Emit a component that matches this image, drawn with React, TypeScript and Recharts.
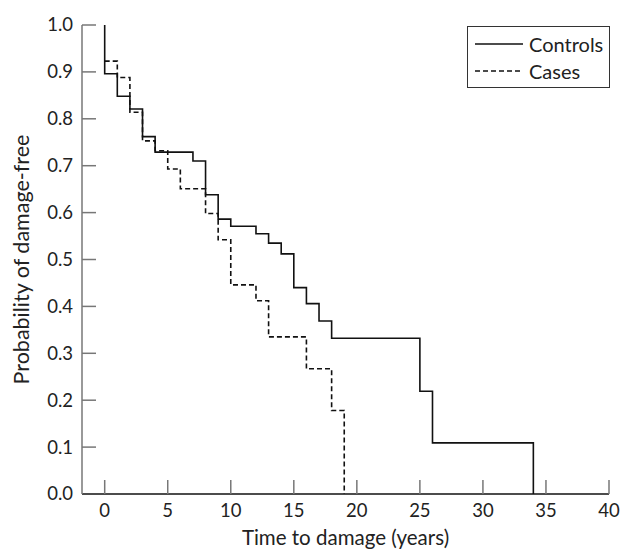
import React from "react";
import { LineChart, Line, XAxis, YAxis } from "recharts";

const controlTimes = [0, 0, 1, 2, 3, 4, 7, 8, 9, 10, 12, 13, 14, 15, 16, 17, 18, 25, 26, 34];
const controlSurvival = [1.0, 0.896, 0.848, 0.821, 0.762, 0.729, 0.71, 0.638, 0.586, 0.571, 0.555, 0.535, 0.512, 0.44, 0.406, 0.369, 0.332, 0.219, 0.109, 0];

const caseTimes = [0, 1, 2, 3, 4, 5, 6, 8, 9, 10, 12, 13, 16, 18, 19];
const caseSurvival = [0.923, 0.888, 0.814, 0.753, 0.732, 0.693, 0.651, 0.598, 0.542, 0.446, 0.412, 0.335, 0.267, 0.178, 0];

const xTicks = [0, 5, 10, 15, 20, 25, 30, 35, 40];
const yTicks = [0, 0.1, 0.2, 0.3, 0.4, 0.5, 0.6, 0.7, 0.8, 0.9, 1.0];

const seriesNames = ["Controls", "Cases"];
const xTitle = "Time to damage (years)";
const yTitle = "Probability of damage-free";

const controlsData = controlTimes.map((t, i) => ({ t, s: controlSurvival[i] }));
const casesData = caseTimes.map((t, i) => ({ t, s: caseSurvival[i] }));

const FONT = "Lato, 'Open Sans', sans-serif";
const TICK_LEN = 14;
const Y_GAP = 9;
const X_GAP = 8;

const YTick = (props: any) => {
  const { x, y, payload } = props;
  const ax = x + Y_GAP;
  const isZero = payload.value === 0;
  return (
    <g>
      {!isZero && <line x1={ax} y1={y} x2={ax + TICK_LEN} y2={y} stroke="#777" strokeWidth={1.5} />}
      <text x={x} y={y} dy="0.35em" textAnchor="end" fill="#222" fontSize={18.5} fontFamily={FONT}>
        {Number(payload.value).toFixed(1)}
      </text>
    </g>
  );
};

const XTick = (props: any) => {
  const { x, y, payload } = props;
  const ay = y - X_GAP;
  return (
    <g>
      <line x1={x} y1={ay} x2={x} y2={ay - TICK_LEN} stroke="#777" strokeWidth={1.5} />
      <text x={x} y={y} dy="0.82em" textAnchor="middle" fill="#222" fontSize={18.5} fontFamily={FONT}>
        {payload.value}
      </text>
    </g>
  );
};

export default function App() {
  return (
    <div style={{ position: "absolute", left: 0, top: 0, width: 622, height: 551, background: "#fff", fontFamily: FONT }}>
      <LineChart width={622} height={551} margin={{ top: 25, right: 13, bottom: 0, left: 0 }}>
        <XAxis
          type="number"
          dataKey="t"
          domain={[-1.8, 40]}
          ticks={xTicks}
          allowDataOverflow
          height={57}
          axisLine={{ stroke: "#111", strokeWidth: 1.5 }}
          tickLine={false}
          tickSize={0}
          tickMargin={X_GAP}
          tick={<XTick />}
          label={{ value: xTitle, position: "insideBottom", offset: 6, style: { fill: "#222", fontSize: 20.5, fontFamily: FONT } }}
        />
        <YAxis
          type="number"
          domain={[0, 1]}
          ticks={yTicks}
          width={82}
          axisLine={{ stroke: "#777", strokeWidth: 1.5 }}
          tickLine={false}
          tickSize={0}
          tickMargin={Y_GAP}
          tick={<YTick />}
          label={{ value: yTitle, angle: -90, position: "insideLeft", offset: 21, style: { textAnchor: "middle", fill: "#222", fontSize: 21.5, fontFamily: FONT } }}
        />
        <Line
          data={controlsData}
          dataKey="s"
          name={seriesNames[0]}
          type="stepAfter"
          stroke="#111"
          strokeWidth={1.6}
          dot={false}
          activeDot={false}
          isAnimationActive={false}
        />
        <Line
          data={casesData}
          dataKey="s"
          name={seriesNames[1]}
          type="stepAfter"
          stroke="#111"
          strokeWidth={1.6}
          strokeDasharray="5 3"
          dot={false}
          activeDot={false}
          isAnimationActive={false}
        />
      </LineChart>
      <div
        style={{
          position: "absolute",
          left: 467,
          top: 26,
          width: 141,
          height: 60,
          border: "1.5px solid #333",
          background: "#fff",
        }}
      >
        {seriesNames.map((name, i) => (
          <div key={name} style={{ position: "absolute", left: 7, top: 4 + i * 27, height: 26, display: "flex", alignItems: "center" }}>
            <svg width={48} height={4} style={{ display: "block" }}>
              <line x1={0} y1={2} x2={48} y2={2} stroke="#111" strokeWidth={1.6} strokeDasharray={i === 1 ? "5 3" : undefined} />
            </svg>
            <span style={{ marginLeft: 6, fontSize: 20, color: "#222", lineHeight: "26px" }}>{name}</span>
          </div>
        ))}
      </div>
    </div>
  );
}
